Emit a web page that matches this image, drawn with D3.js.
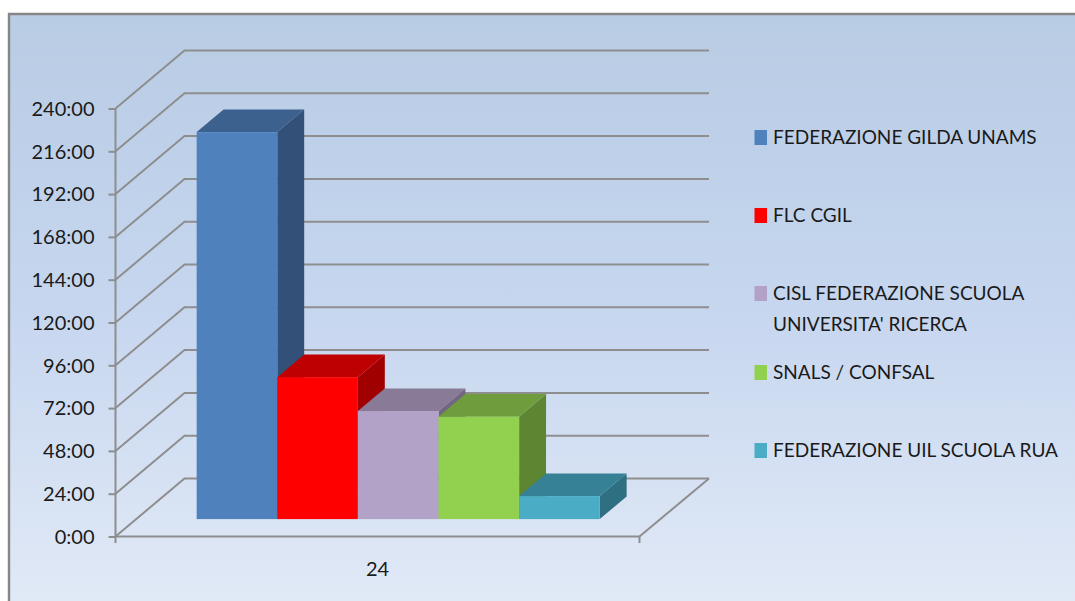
<!DOCTYPE html>
<html><head><meta charset="utf-8">
<script src="https://cdn.jsdelivr.net/npm/d3@7/dist/d3.min.js"></script>
<style>html,body{margin:0;padding:0;background:#fff;overflow:hidden}svg{display:block}text{font-family:Lato,"Open Sans",sans-serif;fill:#1a1a1a}</style>
</head><body><svg id="c" width="1075" height="601"></svg>
<script>
const seriesNames = ["FEDERAZIONE GILDA UNAMS","FLC CGIL","CISL FEDERAZIONE SCUOLA|UNIVERSITA' RICERCA","SNALS / CONFSAL","FEDERAZIONE UIL SCUOLA RUA"];
const seriesHours = [217, 79.6, 60.6, 57.4, 12.9];
const categories = ["24"];
const tickHours = [0,24,48,72,96,120,144,168,192,216,240];
const frontColors = ["#4f81bd","#ff0000","#b3a2c7","#92d050","#4bacc6"];
const topColors = ["#3d618e","#bf0000","#897a97","#6f9d3d","#378197"];
const sideColors = ["#325078","#a00000","#726680","#5e8532","#2e6f82"];
const legendRowY = [137.5,215.5,293.5,372.5,450.5];

const svg = d3.select("#c");
const defs = svg.append("defs");
const g = defs.append("linearGradient").attr("id","bg").attr("x1",0).attr("y1",0).attr("x2",0).attr("y2",1);
[[0,"#b8cce4"],[0.5,"#c6d6ef"],[1,"#e1e9f6"]].forEach(s=>g.append("stop").attr("offset",s[0]).attr("stop-color",s[1]));
svg.append("rect").attr("x",8).attr("y",13).attr("width",1067).attr("height",588).attr("fill","url(#bg)");
svg.append("path").attr("d","M9 601V14H1075").attr("fill","none").attr("stroke","#868686").attr("stroke-width",2.4);

const grid = "#8e8e8e";
const y = d3.scaleLinear().domain([0,240]).range([536.5,108.5]);
const x0 = d3.scaleBand().domain(categories).range([115.5,639.5]).paddingInner(0).paddingOuter(0.15);
const x1 = d3.scaleBand().domain(seriesNames).range([x0(categories[0]), x0(categories[0])+x0.bandwidth()]);
// oblique projection of the depth axis
const wallDx = 69, wallDy = -58;
const barStart = 0.3, barDepth = 0.39;

const gl = svg.append("g").attr("fill","none").attr("stroke",grid).attr("stroke-width",2);
tickHours.forEach(t=>{
  gl.append("path").attr("d",d3.line()([[115.5,y(t)],[115.5+wallDx,y(t)+wallDy],[709,y(t)+wallDy]]));
});
gl.append("path").attr("d",d3.line()([[639.5,536.5],[709,536.5+wallDy]]));

const bars = svg.append("g");
seriesNames.forEach((n,i)=>{
  const xa = x1(n)+wallDx*barStart, xb = xa+x1.bandwidth();
  const yb = y(0)+wallDy*barStart, h = y(0)-y(seriesHours[i]);
  const yt = yb-h, dx = wallDx*barDepth, dy = wallDy*barDepth;
  const b = bars.append("g");
  b.append("path").attr("d",d3.line()([[xb,yt],[xb+dx,yt+dy],[xb+dx,yb+dy],[xb,yb]])+"Z").attr("fill",sideColors[i]);
  b.append("path").attr("d",d3.line()([[xa,yt],[xa+dx,yt+dy],[xb+dx,yt+dy],[xb,yt]])+"Z").attr("fill",topColors[i]);
  b.append("rect").attr("x",xa).attr("y",yt).attr("width",x1.bandwidth()).attr("height",h).attr("fill",frontColors[i]);
});

const yAxis = d3.axisLeft(y).tickValues(tickHours).tickSize(7).tickPadding(14).tickFormat(d=>d+":00");
const ya = svg.append("g").attr("transform","translate(115.5,0)").call(yAxis);
ya.selectAll("path,line").attr("stroke",grid).attr("stroke-width",2);
ya.select(".domain").attr("d","M0,108.5V543");
ya.selectAll("text").attr("font-size",20).attr("font-family","Lato").attr("fill","#1a1a1a").attr("dy","0.34em");

const xa = svg.append("g").attr("fill","none").attr("stroke",grid).attr("stroke-width",2);
xa.append("path").attr("d",d3.line()([[115.5,536.5],[639.5,536.5],[639.5,543]]));
svg.append("text").attr("x",x0(categories[0])+x0.bandwidth()/2).attr("y",569).attr("dy","0.34em").attr("text-anchor","middle").attr("font-size",20).text(categories[0]);

const leg = svg.append("g");
seriesNames.forEach((n,i)=>{
  leg.append("rect").attr("x",754.5).attr("y",legendRowY[i]-7.5).attr("width",12.5).attr("height",15).attr("fill",frontColors[i]);
  n.split("|").forEach((line,k)=>{
    const t = leg.append("text").attr("x",773).attr("y",legendRowY[i]+k*31).attr("dy","0.34em").attr("font-size",20).text(line);
    t.attr("textLength",t.node().getComputedTextLength()*0.95).attr("lengthAdjust","spacingAndGlyphs");
  });
});
</script></body></html>
